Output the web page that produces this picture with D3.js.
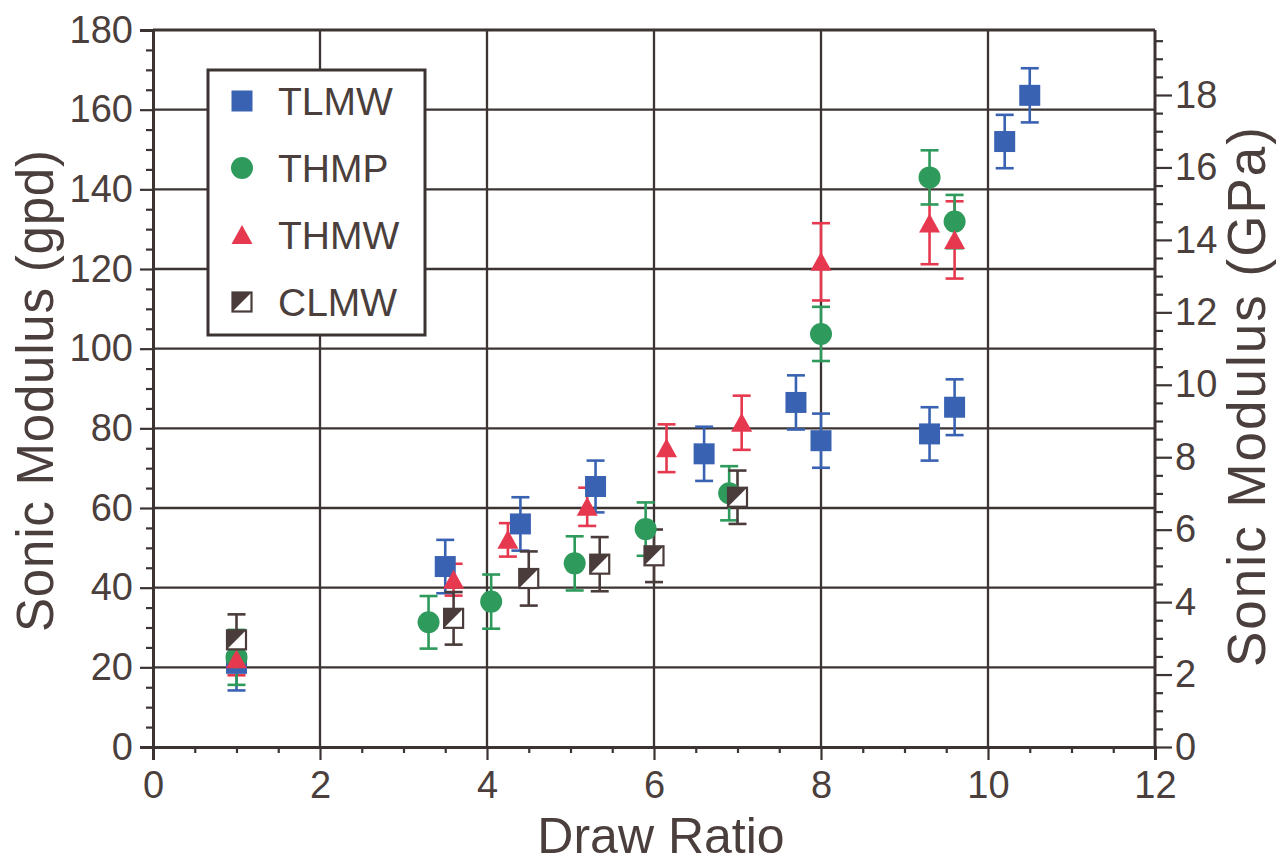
<!DOCTYPE html>
<html>
<head>
<meta charset="utf-8">
<script src="https://cdn.jsdelivr.net/npm/d3@7"></script>
<style>
html,body{margin:0;padding:0;background:#fff;}
svg{display:block;font-family:"Liberation Sans",Arial,sans-serif;}
</style>
</head>
<body>
<svg id="chart" width="1282" height="864"></svg>
<script>
// ---- data ----
const seriesNames = ["TLMW", "THMP", "THMW", "CLMW"];

const tlmwX = [1, 3.5, 4.4, 5.3, 6.6, 7.7, 8.0, 9.3, 9.6, 10.2, 10.5];
const tlmwY = [21, 45.3, 56, 65.4, 73.6, 86.5, 76.9, 78.6, 85.3, 152, 163.6];
const tlmwErr = [6.8, 6.7, 6.7, 6.5, 6.8, 6.8, 6.8, 6.7, 7.0, 6.7, 6.8];

const thmpX = [1, 3.3, 4.05, 5.05, 5.9, 6.9, 8.0, 9.3, 9.6];
const thmpY = [22.5, 31.3, 36.5, 46.1, 54.7, 63.7, 103.7, 143, 131.9];
const thmpErr = [6.9, 6.6, 6.8, 6.8, 6.7, 6.8, 6.8, 6.8, 6.7];

const thmwX = [1, 3.6, 4.25, 5.2, 6.15, 7.05, 8.0, 9.3, 9.6];
const thmwY = [22, 42, 52, 60.3, 75, 81.4, 121.8, 131.4, 127.3];
const thmwErr = [4, 4, 4.2, 4.8, 6, 6.8, 9.7, 10.2, 9.7];

const clmwX = [1, 3.6, 4.5, 5.35, 6.0, 7.0];
const clmwY = [26.9, 32.3, 42.3, 45.9, 48, 62.7];
const clmwErr = [6.4, 6.6, 6.8, 6.8, 6.6, 6.7];

const xTicks = [0, 2, 4, 6, 8, 10, 12];
const yTicks = [0, 20, 40, 60, 80, 100, 120, 140, 160, 180];
const y2Ticks = [0, 2, 4, 6, 8, 10, 12, 14, 16, 18];

// ---- style ----
const colors = {TLMW: "#3a62b3", THMP: "#2e9a5b", THMW: "#e6394f", CLMW: "#4a3c3a"};
const ink = "#4a3f3d";
const gridCol = "#3b3433";

const svg = d3.select("#chart");
const x = d3.scaleLinear().domain([0, 12]).range([153, 1155]);
const y = d3.scaleLinear().domain([0, 180]).range([747, 30]);
const y2 = d3.scaleLinear().domain([0, 18]).range([747, 95]);

// grid
const grid = svg.append("g");
grid.selectAll("line.v").data(xTicks.filter(d => d > 0)).join("line")
  .attr("x1", d => x(d)).attr("x2", d => x(d))
  .attr("y1", y(0)).attr("y2", y(180))
  .attr("stroke", gridCol).attr("stroke-width", d => d === 12 ? 3 : 2.3);
grid.selectAll("line.h").data(yTicks.filter(d => d > 0)).join("line")
  .attr("y1", d => y(d)).attr("y2", d => y(d))
  .attr("x1", x(0)).attr("x2", x(12))
  .attr("stroke", gridCol).attr("stroke-width", d => d === 180 ? 3 : 2.3);

function styleAxis(g, size) {
  g.select(".domain").attr("stroke", gridCol).attr("stroke-width", 3);
  g.selectAll(".tick line").attr("stroke", gridCol).attr("stroke-width", 2.2);
  g.selectAll(".tick text").attr("fill", ink).style("font-size", size + "px")
    .style("font-family", '"Liberation Sans", Arial, sans-serif');
}

// minor ticks
const minorX = d3.range(0, 12.01, 0.5).filter(d => !xTicks.includes(d));
const minorY = d3.range(0, 180.1, 5).filter(d => !yTicks.includes(d));
const minorY2 = d3.range(0, 19.6, 0.5).filter(d => !y2Ticks.includes(d));

const gxm = svg.append("g").attr("transform", `translate(0,${y(0)})`)
  .call(d3.axisBottom(x).tickValues(minorX).tickSize(6).tickFormat(""));
styleAxis(gxm, 38);
const gym = svg.append("g").attr("transform", `translate(${x(0)},0)`)
  .call(d3.axisLeft(y).tickValues(minorY).tickSize(7).tickFormat(""));
styleAxis(gym, 38);
const gy2m = svg.append("g").attr("transform", `translate(${x(12)},0)`)
  .call(d3.axisRight(y2).tickValues(minorY2).tickSize(8).tickFormat(""));
styleAxis(gy2m, 38);
gy2m.select(".domain").remove();

const gx = svg.append("g").attr("transform", `translate(0,${y(0)})`)
  .call(d3.axisBottom(x).tickValues(xTicks).tickSize(13).tickPadding(11).tickFormat(d3.format("d")));
styleAxis(gx, 38);
const gy = svg.append("g").attr("transform", `translate(${x(0)},0)`)
  .call(d3.axisLeft(y).tickValues(yTicks).tickSize(13).tickPadding(7).tickFormat(d3.format("d")));
styleAxis(gy, 38);
const gy2 = svg.append("g").attr("transform", `translate(${x(12)},0)`)
  .call(d3.axisRight(y2).tickValues(y2Ticks).tickSize(17).tickPadding(3).tickFormat(d3.format("d")));
styleAxis(gy2, 38);
gy2.select(".domain").remove();

// titles
svg.append("text").attr("x", 661).attr("y", 853).attr("text-anchor", "middle")
  .attr("fill", ink).style("font-size", "50px").text("Draw Ratio");
svg.append("text").attr("transform", "translate(53,391) rotate(-90)").attr("text-anchor", "middle")
  .attr("fill", ink).style("font-size", "51px")
  .attr("textLength", 482).attr("lengthAdjust", "spacing").text("Sonic Modulus (gpd)");
svg.append("text").attr("transform", "translate(1265,397) rotate(-90)").attr("text-anchor", "middle")
  .attr("fill", ink).style("font-size", "53px")
  .attr("textLength", 540).attr("lengthAdjust", "spacing").text("Sonic Modulus (GPa)");

// data
const series = [
  {name: "TLMW", xs: tlmwX, ys: tlmwY, es: tlmwErr},
  {name: "THMP", xs: thmpX, ys: thmpY, es: thmpErr},
  {name: "THMW", xs: thmwX, ys: thmwY, es: thmwErr},
  {name: "CLMW", xs: clmwX, ys: clmwY, es: clmwErr}
].map(s => ({name: s.name, pts: s.xs.map((v, i) => ({x: v, y: s.ys[i], e: s.es[i]}))}));

const capW = 9;
const errOrder = ["TLMW", "THMW", "THMP", "CLMW"];
errOrder.forEach(nm => {
  const s = series.find(d => d.name === nm);
  const g = svg.append("g").attr("stroke", colors[nm]).attr("stroke-width", 2.6).attr("fill", "none");
  s.pts.forEach(p => {
    const cx = x(p.x), top = y(p.y + p.e), bot = y(p.y - p.e);
    g.append("line").attr("x1", cx).attr("x2", cx).attr("y1", top).attr("y2", bot);
    g.append("line").attr("x1", cx - capW).attr("x2", cx + capW).attr("y1", top).attr("y2", top);
    g.append("line").attr("x1", cx - capW).attr("x2", cx + capW).attr("y1", bot).attr("y2", bot);
  });
});

function drawMarker(g, name, cx, cy) {
  const c = colors[name];
  if (name === "TLMW") {
    g.append("rect").attr("x", cx - 10.5).attr("y", cy - 10.5).attr("width", 21).attr("height", 21).attr("fill", c);
  } else if (name === "THMP") {
    g.append("circle").attr("cx", cx).attr("cy", cy).attr("r", 11).attr("fill", c);
  } else if (name === "THMW") {
    g.append("path").attr("d", `M${cx},${cy - 10} L${cx + 10.5},${cy + 9} L${cx - 10.5},${cy + 9} Z`).attr("fill", c);
  } else {
    g.append("rect").attr("x", cx - 9.5).attr("y", cy - 9.5).attr("width", 19).attr("height", 19)
      .attr("fill", "#fff").attr("stroke", c).attr("stroke-width", 2.2);
    g.append("path").attr("d", `M${cx - 9.5},${cy - 9.5} L${cx + 9.5},${cy - 9.5} L${cx - 9.5},${cy + 9.5} Z`).attr("fill", c);
  }
}

seriesNames.forEach(nm => {
  const s = series.find(d => d.name === nm);
  const g = svg.append("g");
  s.pts.forEach(p => drawMarker(g, nm, x(p.x), y(p.y)));
});

// legend
const lg = svg.append("g");
lg.append("rect").attr("x", 208).attr("y", 70).attr("width", 217).attr("height", 265)
  .attr("fill", "#fff").attr("stroke", gridCol).attr("stroke-width", 3);
seriesNames.forEach((nm, i) => {
  const cy = 101 + i * 67;
  drawMarker(lg, nm, 242, cy);
  lg.append("text").attr("x", 278).attr("y", cy + 14).attr("fill", ink)
    .style("font-size", "39px").text(nm);
});
</script>
</body>
</html>
